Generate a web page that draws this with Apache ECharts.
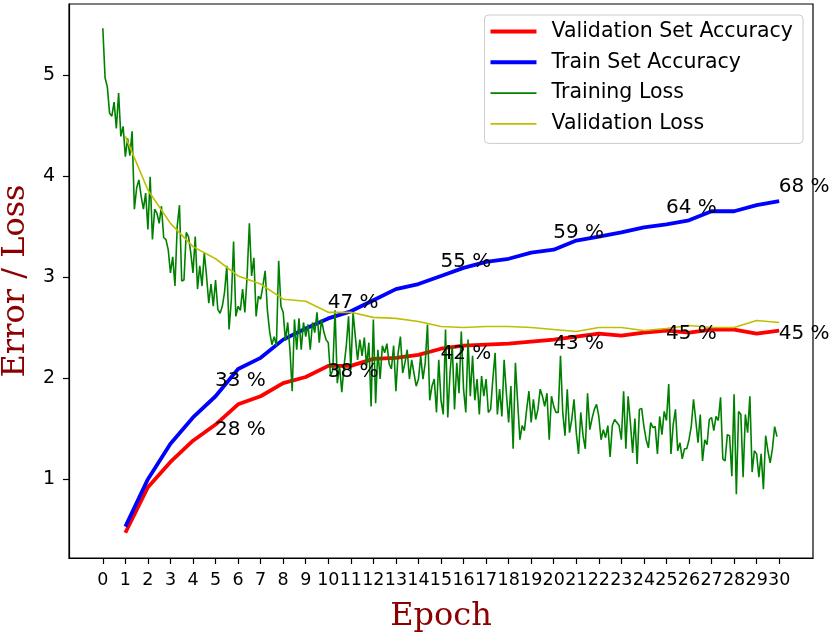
<!DOCTYPE html>
<html lang="en">
<head>
    <meta charset="UTF-8">
    <title>accuracy / loss</title>
    <script src="https://cdn.jsdelivr.net/npm/echarts@6/dist/echarts.min.js" type="text/javascript"></script>
    <style>
        html, body { margin: 0; padding: 0; background: #fff; }
    </style>
</head>
<body>
<div id="main" style="width: 835px; height: 636px;"></div>
<script>
    // epochs for the per-epoch curves
    var epochs = [1, 2, 3, 4, 5, 6, 7, 8, 9, 10, 11, 12, 13, 14, 15,
        16, 17, 18, 19, 20, 21, 22, 23, 24, 25, 26, 27, 28, 29, 30];

    var valAcc = [0.47, 0.92, 1.17, 1.38, 1.54, 1.74, 1.82, 1.95, 2.01, 2.12,
        2.12, 2.19, 2.20, 2.23, 2.29, 2.32, 2.33, 2.34, 2.36, 2.38,
        2.41, 2.44, 2.42, 2.45, 2.47, 2.45, 2.48, 2.48, 2.44, 2.47];

    var trainAcc = [0.53, 1.00, 1.35, 1.61, 1.82, 2.09, 2.20, 2.38, 2.49, 2.59,
        2.66, 2.77, 2.88, 2.93, 3.01, 3.09, 3.15, 3.18, 3.24, 3.27,
        3.36, 3.40, 3.44, 3.49, 3.52, 3.56, 3.65, 3.65, 3.71, 3.75];

    var valLoss = [4.39, 3.86, 3.53, 3.30, 3.18, 3.01, 2.93, 2.78, 2.76, 2.65,
        2.65, 2.60, 2.59, 2.56, 2.51, 2.50, 2.51, 2.51, 2.50, 2.48,
        2.46, 2.50, 2.50, 2.47, 2.49, 2.52, 2.50, 2.50, 2.57, 2.55];

    // training loss, logged every 0.1 epoch
    var lossStep = 0.1;
    var trainLoss = [
        5.46, 4.97, 4.88, 4.62, 4.59, 4.73, 4.47, 4.82, 4.39, 4.49,
        4.19, 4.37, 4.20, 4.44, 3.67, 3.88, 3.96, 3.80, 3.67, 3.83,
        3.47, 3.99, 3.37, 3.67, 3.63, 3.53, 3.70, 3.39, 3.37, 3.27,
        3.04, 3.20, 2.91, 3.50, 3.71, 2.96, 2.97, 3.44, 3.40, 3.24,
        3.04, 3.40, 2.88, 3.11, 2.91, 3.24, 3.01, 2.74, 2.93, 2.71,
        2.97, 2.68, 2.64, 2.71, 2.85, 3.11, 2.48, 2.77, 3.35, 2.61,
        2.71, 2.67, 2.88, 2.65, 3.01, 3.53, 3.01, 3.19, 2.61, 2.81,
        2.78, 2.91, 3.06, 2.67, 2.46, 2.33, 2.41, 2.32, 3.16, 2.71,
        2.65, 2.37, 2.55, 2.28, 1.87, 2.58, 2.28, 2.59, 2.28, 2.55,
        2.41, 2.53, 2.28, 2.55, 2.45, 2.65, 2.35, 2.58, 2.46, 2.38,
        2.35, 2.02, 2.08, 2.67, 1.95, 2.12, 1.86, 2.12, 2.32, 2.61,
        2.08, 2.65, 2.41, 2.18, 2.38, 2.22, 2.40, 2.12, 2.35, 1.72,
        2.58, 1.75, 2.28, 1.99, 2.32, 2.25, 2.34, 2.14, 2.09, 2.32,
        1.87, 2.25, 2.41, 2.05, 2.15, 2.28, 1.99, 2.18, 2.05, 1.92,
        1.99, 2.22, 1.99, 2.15, 2.53, 1.78, 1.92, 1.99, 1.66, 2.18,
        1.78, 1.64, 2.48, 1.61, 2.05, 2.32, 1.69, 2.15, 1.85, 2.46,
        1.89, 1.66, 2.38, 1.82, 2.22, 1.78, 1.99, 1.64, 2.02, 1.82,
        1.99, 1.66, 1.69, 1.99, 2.25, 1.64, 1.89, 1.62, 2.18, 1.85,
        1.56, 1.92, 1.30, 2.15, 1.76, 1.39, 1.53, 1.48, 1.69, 1.87,
        1.56, 1.79, 1.59, 1.69, 1.89, 1.82, 1.72, 1.85, 1.39, 1.82,
        1.72, 1.66, 1.66, 2.22, 1.66, 1.43, 1.89, 1.46, 1.59, 1.79,
        1.46, 1.25, 1.66, 1.43, 1.30, 1.85, 1.49, 1.60, 1.69, 1.74,
        1.62, 1.39, 1.49, 1.41, 1.53, 1.22, 1.53, 1.59, 1.56, 1.53,
        1.39, 1.87, 1.30, 1.82, 1.56, 1.26, 1.60, 1.15, 1.69, 1.70,
        1.52, 1.39, 1.31, 1.56, 1.51, 1.52, 1.25, 1.62, 1.44, 1.67,
        1.58, 1.94, 1.25, 1.54, 1.69, 1.28, 1.36, 1.20, 1.30, 1.30,
        1.39, 1.52, 1.79, 1.58, 1.36, 1.64, 1.18, 1.39, 1.34, 1.59,
        1.61, 1.48, 1.62, 1.58, 1.81, 1.20, 1.18, 1.44, 1.43, 1.03,
        1.84, 0.85, 1.67, 1.64, 1.02, 1.64, 1.46, 1.82, 1.07, 1.28,
        1.25, 1.02, 1.25, 0.90, 1.43, 1.28, 1.16, 1.30, 1.52, 1.42
    ];

    // percent annotations: epoch, baseline value, text
    var noteX = [5, 5, 10, 10, 15, 15, 20, 20, 25, 25, 30, 30];
    var noteY = [1.91, 1.42, 2.68, 2.00, 3.09, 2.18, 3.37, 2.27, 3.62, 2.37, 3.83, 2.37];
    var noteText = ['33 %', '28 %', '47 %', '38 %', '55 %', '42 %', '59 %', '43 %', '64 %', '45 %', '68 %', '45 %'];

    var xTicks = [0, 1, 2, 3, 4, 5, 6, 7, 8, 9, 10, 11, 12, 13, 14, 15,
        16, 17, 18, 19, 20, 21, 22, 23, 24, 25, 26, 27, 28, 29, 30];
    var yTicks = [1, 2, 3, 4, 5];

    function pairs(xs, ys) {
        return ys.map(function (v, i) { return [xs[i], v]; });
    }

    var lossData = trainLoss.map(function (v, i) {
        return [+(i * lossStep).toFixed(1), v];
    });
    var noteData = noteText.map(function (t, i) {
        return {name: t, value: [noteX[i], noteY[i]]};
    });

    var thick = 'path://M0,0M56,10M0,3h46v4h-46z';
    var thin = 'path://M0,0M56,10M0,4.1h46v1.8h-46z';

    var myChart = echarts.init(document.getElementById('main'));

    var option = {
        animation: false,
        textStyle: {fontFamily: 'DejaVu Sans'},
        grid: {
            left: 69, right: 22, top: 4, bottom: 78,
            outerBoundsMode: 'none',
            containLabel: false,
            show: true, borderColor: '#000', borderWidth: 1.2
        },
        legend: {
            orient: 'vertical',
            right: 32,
            top: 15,
            align: 'left',
            itemWidth: 56,
            itemHeight: 10,
            itemGap: 9.8,
            padding: [6, 10, 9, 6],
            borderColor: '#cccccc',
            borderWidth: 1,
            borderRadius: 4,
            backgroundColor: 'rgba(255,255,255,0.8)',
            textStyle: {fontSize: 20.5, color: '#000', lineHeight: 20},
            data: [
                {name: 'Validation Set Accuracy', icon: thick},
                {name: 'Train Set Accuracy', icon: thick},
                {name: 'Training Loss', icon: thin},
                {name: 'Validation Loss', icon: thin}
            ]
        },
        xAxis: {
            type: 'value',
            min: -1.5,
            max: 31.5,
            name: 'Epoch',
            nameLocation: 'middle',
            nameGap: 43,
            nameTextStyle: {fontFamily: 'DejaVu Serif', fontSize: 32, color: '#8b0000'},
            axisLine: {show: true, onZero: false, lineStyle: {color: '#000', width: 1.2}},
            axisTick: {show: true, customValues: xTicks, length: 6, lineStyle: {color: '#000', width: 1.2}},
            axisLabel: {
                customValues: xTicks, fontSize: 17.5, color: '#000', margin: 13,
                hideOverlap: false, showMinLabel: true, showMaxLabel: true
            },
            splitLine: {show: false}
        },
        yAxis: {
            type: 'value',
            min: 0.22,
            max: 5.70,
            name: 'Error / Loss',
            nameLocation: 'middle',
            nameGap: 35,
            nameTextStyle: {fontFamily: 'DejaVu Serif', fontSize: 32, color: '#8b0000'},
            axisLine: {show: true, onZero: false, lineStyle: {color: '#000', width: 1.2}},
            axisTick: {show: true, customValues: yTicks, length: 6, lineStyle: {color: '#000', width: 1.2}},
            axisLabel: {customValues: yTicks, fontSize: 19, color: '#000', margin: 14},
            splitLine: {show: false}
        },
        series: [
            {
                name: 'Validation Set Accuracy',
                type: 'line',
                symbol: 'none',
                data: pairs(epochs, valAcc),
                itemStyle: {color: '#ff0000'},
                lineStyle: {color: '#ff0000', width: 3.8},
                z: 2
            },
            {
                name: 'Train Set Accuracy',
                type: 'line',
                symbol: 'none',
                data: pairs(epochs, trainAcc),
                itemStyle: {color: '#0000ff'},
                lineStyle: {color: '#0000ff', width: 3.8},
                z: 2
            },
            {
                name: 'Training Loss',
                type: 'line',
                symbol: 'none',
                data: lossData,
                itemStyle: {color: '#008000'},
                lineStyle: {color: '#008000', width: 1.6},
                z: 2
            },
            {
                name: 'Validation Loss',
                type: 'line',
                symbol: 'none',
                data: pairs(epochs, valLoss),
                itemStyle: {color: '#bfbf00'},
                lineStyle: {color: '#bfbf00', width: 1.6},
                z: 2
            },
            {
                name: 'notes',
                type: 'scatter',
                symbolSize: 1,
                itemStyle: {color: 'transparent', opacity: 1},
                data: noteData,
                silent: true,
                z: 5,
                label: {
                    show: true,
                    formatter: '{b}',
                    position: [0, 0],
                    align: 'left',
                    verticalAlign: 'bottom',
                    offset: [0, 4],
                    fontSize: 20,
                    color: '#000',
                    opacity: 1
                }
            }
        ]
    };
    myChart.setOption(option);
</script>
</body>
</html>
